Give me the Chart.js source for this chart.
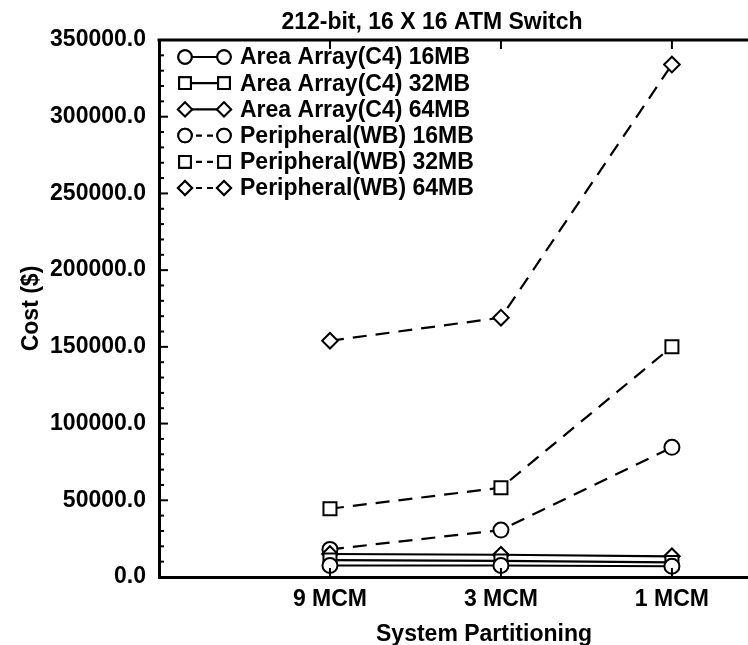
<!DOCTYPE html>
<html>
<head>
<meta charset="utf-8">
<script src="https://cdn.jsdelivr.net/npm/chart.js@4/dist/chart.umd.min.js"></script>
<style>
  html, body { margin: 0; padding: 0; background: #fff; overflow: hidden; }
  #wrap { width: 748px; height: 645px; }
</style>
</head>
<body>
<div id="wrap"><canvas id="c" width="748" height="645"></canvas></div>
<script>
// ---- data ----
const chartTitle = '212-bit, 16 X 16 ATM Switch';
const xTitle = 'System Partitioning';
const yTitle = 'Cost ($)';
const categories = ['9 MCM', '3 MCM', '1 MCM'];
const seriesNames = [
  'Area Array(C4) 16MB',
  'Area Array(C4) 32MB',
  'Area Array(C4) 64MB',
  'Peripheral(WB) 16MB',
  'Peripheral(WB) 32MB',
  'Peripheral(WB) 64MB'
];
const areaArray16 = [7500, 7500, 7000];
const areaArray32 = [11000, 10500, 9500];
const areaArray64 = [15000, 14500, 13500];
const peripheral16 = [18000, 30600, 84500];
const peripheral32 = [44500, 58200, 150100];
const peripheral64 = [154000, 169000, 334000];
const yTickValues = [0, 50000, 100000, 150000, 200000, 250000, 300000, 350000];

const FONT = "'Liberation Sans', Arial, Helvetica, sans-serif";
const FS = 23;

const seriesValues = [areaArray16, areaArray32, areaArray64, peripheral16, peripheral32, peripheral64];
const styles = ['circle', 'rect', 'rectRot', 'circle', 'rect', 'rectRot'];
const radii = { circle: 7.5, rect: 9.2, rectRot: 7.8 };

const datasets = seriesValues.map((vals, i) => ({
  label: seriesNames[i],
  data: vals.map((v, j) => ({ x: j + 1, y: v })),
  borderColor: '#000',
  backgroundColor: '#fff',
  borderWidth: 2.2,
  borderDash: i >= 3 ? [14, 9] : [],
  pointStyle: styles[i],
  pointRadius: radii[styles[i]],
  pointBorderWidth: 2,
  pointBackgroundColor: '#fff',
  pointBorderColor: '#000',
  tension: 0,
  fill: false,
  clip: false
}));

const decor = {
  id: 'decor',
  afterDraw(chart) {
    const ctx = chart.ctx;
    const ca = chart.chartArea;
    const xs = chart.scales.x, ys = chart.scales.y;
    ctx.save();
    ctx.strokeStyle = '#000';
    // top frame line
    ctx.lineWidth = 3;
    ctx.beginPath();
    ctx.moveTo(ca.left - 1.5, ca.top);
    ctx.lineTo(ca.right, ca.top);
    ctx.stroke();
    // inward y ticks (major + minor)
    ctx.lineWidth = 2;
    for (let v = 0; v <= 350000; v += 10000) {
      const py = ys.getPixelForValue(v);
      const len = (v % 50000 === 0) ? 9 : 5;
      ctx.beginPath();
      ctx.moveTo(ca.left, py);
      ctx.lineTo(ca.left + len, py);
      ctx.stroke();
    }
    // inward ticks on top and bottom at category positions
    for (let k = 1; k <= categories.length; k++) {
      const px = xs.getPixelForValue(k);
      ctx.beginPath();
      ctx.moveTo(px, ca.top);
      ctx.lineTo(px, ca.top + 9);
      ctx.moveTo(px, ca.bottom);
      ctx.lineTo(px, ca.bottom - 9);
      ctx.stroke();
    }
    // chart title
    ctx.fillStyle = '#000';
    ctx.font = 'bold ' + FS + 'px ' + FONT;
    ctx.textAlign = 'center';
    ctx.textBaseline = 'middle';
    ctx.fillText(chartTitle, 432, 23);
    // x axis title
    ctx.fillText(xTitle, 484, 635);
    // legend
    const lx0 = 185, lx1 = 224, tx = 240, ly0 = 57, dy = 26.2;
    chart.data.datasets.forEach((ds, i) => {
      const y = ly0 + i * dy;
      ctx.lineWidth = 2.2;
      ctx.setLineDash(i >= 3 ? [6, 5] : []);
      ctx.beginPath();
      ctx.moveTo(lx0, y);
      ctx.lineTo(lx1, y);
      ctx.stroke();
      ctx.setLineDash([]);
      [lx0, lx1].forEach(px => {
        ctx.fillStyle = '#fff';
        ctx.lineWidth = 2;
        Chart.helpers.drawPoint(ctx, { pointStyle: ds.pointStyle, radius: ds.pointRadius * 0.9, borderWidth: 2 }, px, y);
        ctx.fill();
        ctx.stroke();
      });
      ctx.fillStyle = '#000';
      ctx.textAlign = 'left';
      ctx.textBaseline = 'middle';
      ctx.fillText(ds.label, tx, y + 1);
    });
    ctx.restore();
  }
};

new Chart(document.getElementById('c'), {
  type: 'line',
  data: { datasets },
  options: {
    responsive: false,
    animation: false,
    devicePixelRatio: 1,
    layout: { autoPadding: false, padding: { top: 40, left: 0, right: 0, bottom: 0 } },
    plugins: { legend: { display: false }, title: { display: false }, tooltip: { enabled: false } },
    scales: {
      x: {
        type: 'linear',
        min: 0,
        max: 3.445,
        afterFit: s => { s.height = 68; s.paddingLeft = 0; s.paddingRight = 0; },
        afterBuildTicks: s => { s.ticks = categories.map((c, i) => ({ value: i + 1 })); },
        grid: { display: false, drawTicks: false },
        border: { display: true, color: '#000', width: 3 },
        ticks: {
          color: '#000',
          padding: 9,
          maxRotation: 0,
          autoSkip: false,
          font: { family: FONT, size: FS, weight: 'bold' },
          callback: v => categories[v - 1] || ''
        }
      },
      y: {
        type: 'linear',
        min: 0,
        max: 350000,
        afterFit: s => { s.width = 159; s.paddingTop = 0; s.paddingBottom = 0; },
        afterBuildTicks: s => { s.ticks = yTickValues.map(v => ({ value: v })); },
        grid: { display: false, drawTicks: false },
        border: { display: true, color: '#000', width: 3 },
        title: {
          display: true,
          text: yTitle,
          color: '#000',
          font: { family: FONT, size: FS, weight: 'bold' },
          padding: { top: 18, bottom: 0 }
        },
        ticks: {
          color: '#000',
          padding: 13,
          font: { family: FONT, size: FS, weight: 'bold' },
          callback: v => Number(v).toFixed(1)
        }
      }
    }
  },
  plugins: [decor]
});
</script>
</body>
</html>
